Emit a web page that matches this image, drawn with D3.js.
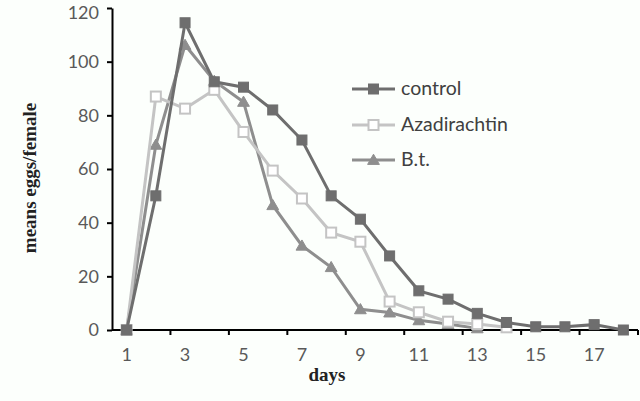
<!DOCTYPE html>
<html>
<head>
<meta charset="utf-8">
<script src="https://cdn.jsdelivr.net/npm/d3@7/dist/d3.min.js"></script>
<style>
  body { margin: 0; background: #fcfffc; }
  svg { display: block; }
</style>
</head>
<body>
<div id="chart"></div>
<script>
// days on the x axis
var days = [1, 2, 3, 4, 5, 6, 7, 8, 9, 10, 11, 12, 13, 14, 15, 16, 17, 18];
var controlVals = [0, 50, 114.5, 92.5, 90.5, 82, 70.8, 50, 41.3, 27.6, 14.6, 11.5, 6.2, 2.8, 1.2, 1.2, 2, 0];
var azaVals = [0, 87, 82.5, 89.5, 73.8, 59.4, 49, 36.3, 32.9, 10.6, 6.6, 3.1, 2.2, 1];
var btVals = [0, 69, 106.2, 92.8, 85, 46.5, 31.4, 23.4, 7.7, 6.5, 3.6, 2.2, 0.6];
var yTicks = [0, 20, 40, 60, 80, 100, 120];
var xLabels = [1, 3, 5, 7, 9, 11, 13, 15, 17];

var series = [
  {name: "control", values: controlVals, color: "#6e6e6e", marker: "square", fill: "#6e6e6e"},
  {name: "Azadirachtin", values: azaVals, color: "#c4c4c4", marker: "square", fill: "#ffffff"},
  {name: "B.t.", values: btVals, color: "#8e8e8e", marker: "triangle", fill: "#8e8e8e"}
];

var width = 640, height = 401;
var margin = {top: 8, right: 2, bottom: 71, left: 112};

var svg = d3.select("#chart").append("svg")
  .attr("width", width)
  .attr("height", height);

var x = d3.scaleBand()
  .domain(days)
  .range([margin.left, width - margin.right]);
var y = d3.scaleLinear()
  .domain([0, 120])
  .range([height - margin.bottom, margin.top]);

var cx = d => x(d) + x.bandwidth() / 2;

// y axis
var yAxis = d3.axisLeft(y).tickValues(yTicks).tickSize(5).tickSizeOuter(0);
var gy = svg.append("g")
  .attr("transform", `translate(${margin.left},0)`)
  .call(yAxis);
gy.select(".domain").attr("stroke", "#000").attr("stroke-width", 2);
gy.selectAll(".tick line").attr("stroke", "#000").attr("stroke-width", 2);
gy.selectAll(".tick text")
  .attr("x", -13)
  .attr("dy", d => d == 120 ? "0.56em" : "0.32em")
  .attr("fill", "#595959")
  .style("font-family", "Lato, 'Open Sans', sans-serif")
  .style("font-size", "18px");

// x axis: ticks on category boundaries every 2 days, labels at odd days
var base = y(0);
var gx = svg.append("g");
gx.append("line")
  .attr("x1", margin.left).attr("x2", width - margin.right)
  .attr("y1", base).attr("y2", base)
  .attr("stroke", "#000").attr("stroke-width", 2);
gx.selectAll("line.tk")
  .data(days.filter(d => d % 2 == 0))
  .enter().append("line")
  .attr("class", "tk")
  .attr("x1", d => x(d) + x.bandwidth()).attr("x2", d => x(d) + x.bandwidth())
  .attr("y1", base).attr("y2", base + 5)
  .attr("stroke", "#000").attr("stroke-width", 2);
gx.selectAll("text")
  .data(xLabels)
  .enter().append("text")
  .attr("x", cx)
  .attr("y", base + 31)
  .attr("text-anchor", "middle")
  .attr("fill", "#595959")
  .style("font-family", "Lato, 'Open Sans', sans-serif")
  .style("font-size", "18px")
  .text(d => d);

// axis titles
svg.append("text")
  .attr("x", 327)
  .attr("y", 381)
  .attr("text-anchor", "middle")
  .style("font-family", "'Liberation Serif', 'Times New Roman', serif")
  .style("font-weight", "bold")
  .style("font-size", "19px")
  .attr("fill", "#222")
  .text("days");

svg.append("text")
  .attr("transform", "translate(36,178) rotate(-90)")
  .attr("text-anchor", "middle")
  .style("font-family", "'Liberation Serif', 'Times New Roman', serif")
  .style("font-weight", "bold")
  .style("font-size", "19px")
  .attr("fill", "#222")
  .text("means eggs/female");

// lines and markers
var line = d3.line()
  .x((v, i) => cx(days[i]))
  .y(v => y(v));

var tri = d3.symbol().type(d3.symbolTriangle).size(60);

function drawMarker(g, s, px, py) {
  if (s.marker == "square") {
    g.append("rect")
      .attr("x", px - 5).attr("y", py - 5)
      .attr("width", 10).attr("height", 10)
      .attr("fill", s.fill)
      .attr("stroke", s.color)
      .attr("stroke-width", s.fill == "#ffffff" ? 2 : 1);
  } else {
    g.append("path")
      .attr("d", tri)
      .attr("transform", `translate(${px},${py + 1})`)
      .attr("fill", s.fill)
      .attr("stroke", s.color);
  }
}

// draw in reverse so control sits on top
series.slice().reverse().forEach(s => {
  var g = svg.append("g");
  g.append("path")
    .datum(s.values)
    .attr("d", line)
    .attr("fill", "none")
    .attr("stroke", s.color)
    .attr("stroke-width", 3);
  s.values.forEach((v, i) => drawMarker(g, s, cx(days[i]), y(v)));
});

// legend
var legY = [89, 125, 160];
series.forEach((s, i) => {
  var g = svg.append("g");
  g.append("line")
    .attr("x1", 352).attr("x2", 395)
    .attr("y1", legY[i]).attr("y2", legY[i])
    .attr("stroke", s.color).attr("stroke-width", 3);
  drawMarker(g, s, 373.5, legY[i]);
  g.append("text")
    .attr("x", 401)
    .attr("y", legY[i] + 6)
    .attr("fill", "#404040")
    .style("font-family", "Lato, 'Open Sans', sans-serif")
    .style("font-size", "19.5px")
    .text(s.name);
});
</script>
</body>
</html>
